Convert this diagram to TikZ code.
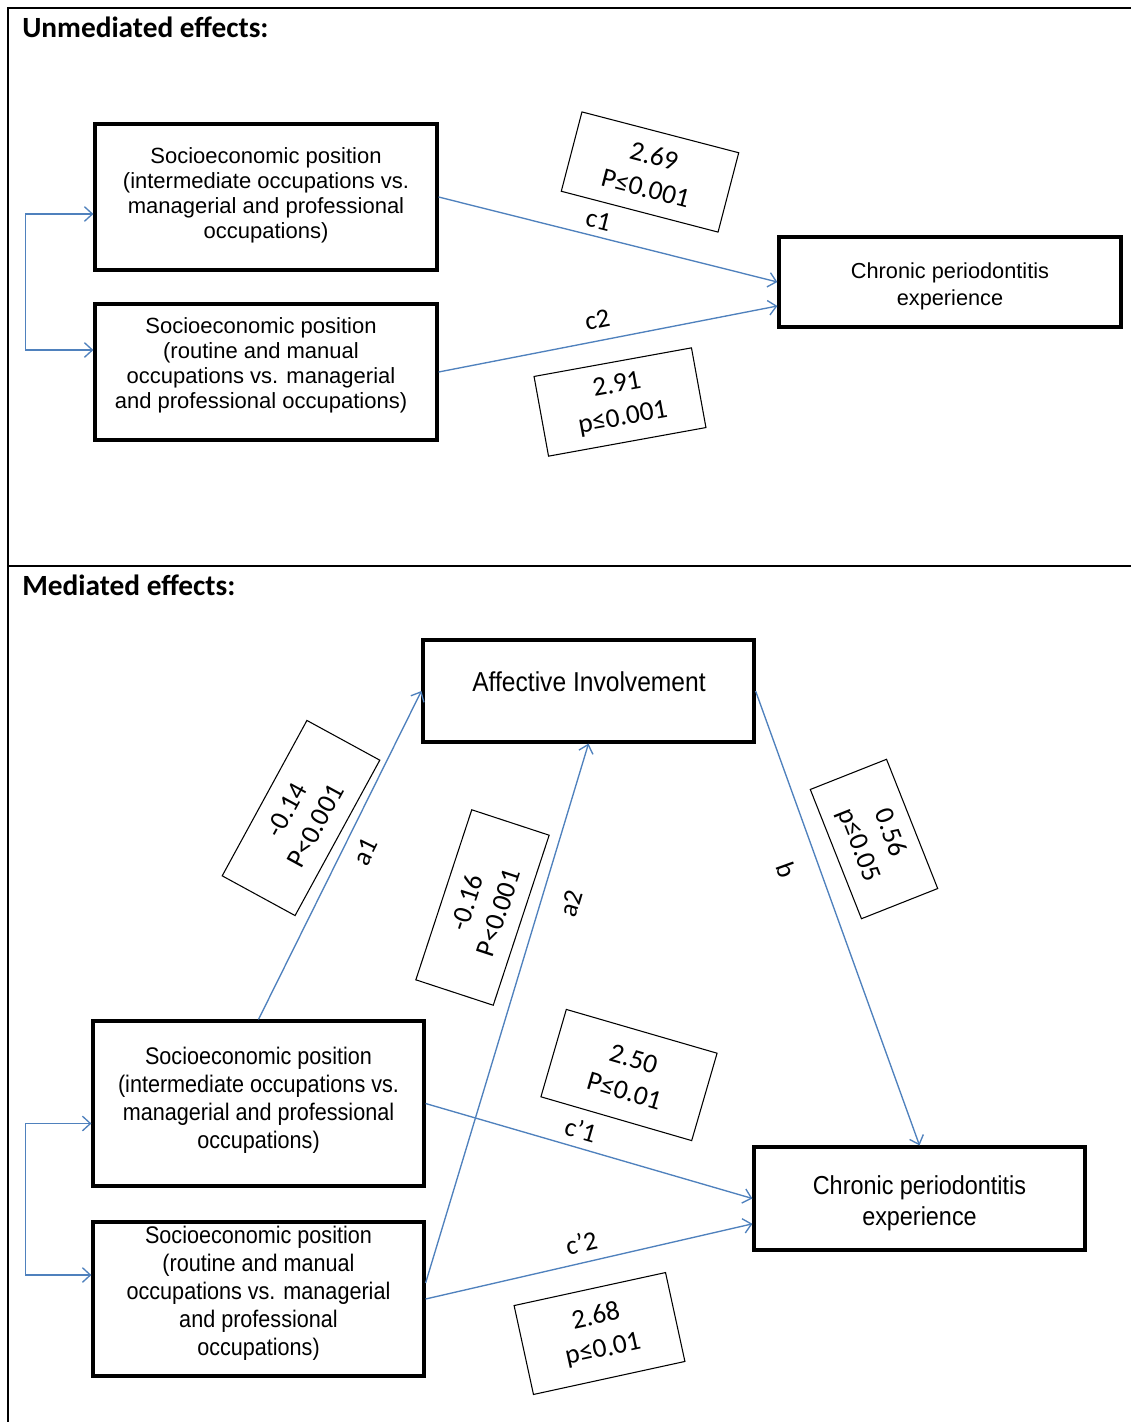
\documentclass[tikz,border=0pt]{standalone}
\usepackage{fontspec}
\setmainfont{Liberation Sans}
\newfontfamily\calfont{Carlito}
\newfontfamily\narrowfont[FakeStretch=0.9]{Liberation Sans}
\usetikzlibrary{arrows.meta}
\definecolor{cblue}{RGB}{79,129,189}
\begin{document}
\begin{tikzpicture}[x=0.75pt,y=-0.75pt,
  bigbox/.style={draw, line width=2.4pt, inner sep=0pt},
  toptxt/.style={align=center, inner sep=0pt, font=\fontsize{16.5}{18.8}\selectfont},
  bottxt/.style={align=center, inner sep=0pt, font=\narrowfont\fontsize{18}{21}\selectfont},
  valbox/.style={draw, line width=0.8pt, inner sep=0pt, align=center, font=\calfont\fontsize{20.5}{25}\selectfont},
  lab/.style={font=\calfont\fontsize{20}{24}\selectfont},
  conn/.style={draw=cblue, line width=1pt, -{Straight Barb[length=6pt,width=11pt]}},
  twoway/.style={draw=cblue, line width=1pt, {Straight Barb[length=6pt,width=11pt]}-{Straight Barb[length=6pt,width=11pt]}},
  header/.style={anchor=west, inner sep=0pt, font=\calfont\bfseries\fontsize{22}{26}\selectfont}
]
\useasboundingbox (0,0) rectangle (1131,1422);
\fill[white] (0,0) rectangle (1131,1422);
% frame
\draw[line width=1.5pt] (8,1422) -- (8,8) -- (1131,8);
\draw[line width=1.5pt] (8,566) -- (1131,566);
\node[header] (h1) at (22,27) {Unmediated effects:};
\node[header] (h2) at (22,585) {Mediated effects:};

% ---------- top ----------
\node[bigbox, minimum width=256.5pt, minimum height=109.5pt] (s1) at (266,197) {};
\node[toptxt] (s1t) at (266,195) {Socioeconomic position\\(intermediate occupations vs.\\managerial and professional\\occupations)};
\node[bigbox, minimum width=256.5pt, minimum height=102pt] (s2) at (266,372) {};
\node[toptxt] (s2t) at (261,365) {Socioeconomic position\\(routine and manual\\occupations vs. managerial\\and professional occupations)};
\node[bigbox, minimum width=256.5pt, minimum height=67.5pt] (chr1) at (950,282) {};
\node[align=center, inner sep=0pt, font=\fontsize{16.3}{20.2}\selectfont] (chr1t) at (950,286) {Chronic periodontitis\\experience};

\draw[conn] (s1.east) -- node[lab, sloped, above=2pt, pos=.46] (lc1) {c1} (chr1.west);
\draw[conn] (s2.east) -- node[lab, sloped, above=5pt, pos=.48] (lc2) {c2} ([yshift=-18pt]chr1.west);
\draw[twoway] ([yshift=-12.75pt]s1.west) -- ++(-51pt,0pt) |- ([yshift=16.5pt]s2.west);

\node[valbox, minimum width=121.5pt, minimum height=61.5pt, rotate=-14.6] (v1) at (650,172) {2.69\\P≤0.001};
\node[valbox, minimum width=120pt, minimum height=60.75pt, rotate=10.3] (v2) at (620,402) {2.91\\p≤0.001};

% ---------- bottom ----------
\node[bigbox, minimum width=248.25pt, minimum height=76.5pt] (aff) at (588.5,691) {};
\node[inner sep=0pt, font=\narrowfont\fontsize{20.5}{24}\selectfont] (afft) at (589,682) {Affective Involvement};
\node[bigbox, minimum width=248.25pt, minimum height=123.75pt] (bs1) at (258.5,1103.5) {};
\node[bottxt] (bs1t) at (258.5,1100.5) {Socioeconomic position\\(intermediate occupations vs.\\managerial and professional\\occupations)};
\node[bigbox, minimum width=248.25pt, minimum height=115.5pt] (bs2) at (258.5,1299) {};
\node[bottxt] (bs2t) at (258.5,1293) {Socioeconomic position\\(routine and manual\\occupations vs. managerial\\and professional\\occupations)};
\node[bigbox, minimum width=248.25pt, minimum height=77.25pt] (chr2) at (919.5,1198.5) {};
\node[align=center, inner sep=0pt, font=\narrowfont\fontsize{19.5}{23}\selectfont] (chr2t) at (919.5,1203) {Chronic periodontitis\\experience};

\draw[conn] (bs1.north) -- node[lab, sloped, below=5.5pt, pos=.54] (la1) {a1} (aff.west);
\draw[conn] ([yshift=12pt]bs2.east) -- node[lab, sloped, below=12pt, pos=.72] (la2) {a2} (aff.south);
\draw[conn] (aff.east) -- node[lab, sloped, below=13pt, pos=.37] (lb) {b} (chr2.north);
\draw[conn] (bs1.east) -- node[lab, sloped, above=2.5pt, pos=.46] (lc1p) {c’1} (chr2.west);
\draw[conn] (bs2.east) -- node[lab, sloped, above=4pt, pos=.49] (lc2p) {c’2} ([yshift=-19pt]chr2.west);
\draw[twoway] ([yshift=-15pt]bs1.west) -- ++(-49.5pt,0pt) |- ([yshift=18pt]bs2.west);

\node[valbox, minimum width=132.75pt, minimum height=62.25pt, rotate=61.4] (v3) at (301,818) {-0.14\\P<0.001};
\node[valbox, minimum width=134.25pt, minimum height=61.1pt, rotate=71.8] (v4) at (482.5,907.5) {-0.16\\P<0.001};
\node[valbox, minimum width=104.25pt, minimum height=61.5pt, rotate=-68.4] (v5) at (874,839) {0.56\\p≤0.05};
\node[valbox, minimum width=117.75pt, minimum height=68.25pt, rotate=-16.2] (v6) at (629,1075) {2.50\\P≤0.01};
\node[valbox, minimum width=116.25pt, minimum height=68.25pt, rotate=12.3] (v7) at (599.5,1333.5) {2.68\\p≤0.01};
\end{tikzpicture}
\end{document}
